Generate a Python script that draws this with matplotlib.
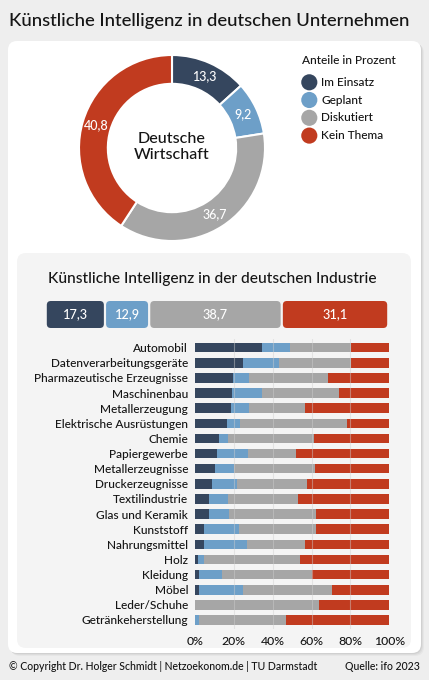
import numpy as np
import matplotlib
matplotlib.use("Agg")
from matplotlib import pyplot as plt
from matplotlib.patches import FancyBboxPatch

plt.rcParams['font.family'] = ['Lato', 'DejaVu Sans']
plt.rcParams['font.weight'] = 'medium'

# data
status = ['Im Einsatz', 'Geplant', 'Diskutiert', 'Kein Thema']
wirtschaft = [13.3, 9.2, 36.7, 40.8]
industrie = [17.3, 12.9, 38.7, 31.1]

branchen = ['Automobil', 'Datenverarbeitungsgeräte', 'Pharmazeutische Erzeugnisse',
            'Maschinenbau', 'Metallerzeugung', 'Elektrische Ausrüstungen', 'Chemie',
            'Papiergewerbe', 'Metallerzeugnisse', 'Druckerzeugnisse', 'Textilindustrie',
            'Glas und Keramik', 'Kunststoff', 'Nahrungsmittel', 'Holz', 'Kleidung',
            'Möbel', 'Leder/Schuhe', 'Getränkeherstellung']
im_einsatz = [34.4, 24.6, 19.8, 19.1, 18.4, 16.3, 12.5, 11.5, 10.3, 8.6, 7.0,
              7.2, 4.8, 4.8, 1.5, 2.1, 2.1, 0.0, 0.0]
geplant = [14.6, 18.4, 8.0, 15.3, 9.4, 6.7, 4.3, 15.6, 9.8, 13.0, 9.8,
           10.3, 18.1, 21.8, 3.3, 12.0, 22.6, 0.0, 2.1]
diskutiert = [31.4, 37.4, 40.9, 39.5, 28.6, 55.2, 44.7, 25.0, 41.8, 36.0, 36.1,
              44.7, 39.3, 29.8, 49.0, 46.0, 45.7, 63.9, 44.8]
kein_thema = [19.6, 19.6, 31.3, 26.1, 43.6, 21.8, 38.5, 47.9, 38.1, 42.4, 47.1,
              37.8, 37.8, 43.6, 46.2, 39.9, 29.6, 36.1, 53.1]
ticks = [0, 20, 40, 60, 80, 100]

colors = ['#35465e', '#6d9fc8', '#a6a6a6', '#c13b1f']
text_col = '#151515'

W, H = 429, 680
fig = plt.figure(figsize=(W / 100, H / 100), dpi=100)
fig.patch.set_facecolor('#eeeeee')


def rect(x0, y0, x1, y1):
    # pixel box (top-left origin) -> figure fraction
    return [x0 / W, 1 - y1 / H, (x1 - x0) / W, (y1 - y0) / H]


# background cards
bg = fig.add_axes([0, 0, 1, 1])
bg.set_xlim(0, W)
bg.set_ylim(H, 0)
bg.axis('off')
for k, a in [(3, 0.03), (2, 0.04), (1, 0.05)]:
    bg.add_patch(FancyBboxPatch((8 + k, 41 + k), 413, 612,
                                boxstyle='round,pad=0,rounding_size=9',
                                fc='black', ec='none', alpha=a))
bg.add_patch(FancyBboxPatch((8, 41), 413, 612, boxstyle='round,pad=0,rounding_size=9',
                            fc='white', ec='none'))
bg.add_patch(FancyBboxPatch((17, 253), 394, 395, boxstyle='round,pad=0,rounding_size=9',
                            fc='#f4f4f4', ec='none'))

bg.text(9, 21, 'Künstliche Intelligenz in deutschen Unternehmen', fontsize=13.3,
        color=text_col, ha='left', va='center')
bg.text(212, 279, 'Künstliche Intelligenz in der deutschen Industrie', fontsize=11.2,
        color=text_col, ha='center', va='center')
bg.text(9, 666, '© Copyright Dr. Holger Schmidt | Netzoekonom.de | TU Darmstadt',
        fontsize=7.6, color=text_col, ha='left', va='center')
bg.text(420, 666, 'Quelle: ifo 2023', fontsize=7.6, color=text_col, ha='right', va='center')

# legend
bg.text(302, 60, 'Anteile in Prozent', fontsize=8.6, color=text_col, ha='left', va='center')
leg_y = [82.3, 100, 117.8, 135.6]
bg.scatter([309.3] * 4, leg_y, s=135, c=colors, linewidths=0)
for lab, yy in zip(status, leg_y):
    bg.text(321, yy, lab, fontsize=8.6, color=text_col, ha='left', va='center')

# donut
r_px = 93
cx, cy = 172, 148
lim = 1.05
ax_d = fig.add_axes(rect(cx - r_px * lim, cy - r_px * lim, cx + r_px * lim, cy + r_px * lim))
ax_d.pie(wirtschaft, colors=colors, startangle=90, counterclock=False, radius=1,
         wedgeprops=dict(width=0.31, edgecolor='white', linewidth=1.5),
         autopct=lambda p: f'{p:.1f}'.replace('.', ','), pctdistance=0.845,
         textprops=dict(color='white', fontsize=9))
ax_d.text(0, 0.01, 'Deutsche\nWirtschaft', ha='center', va='center', fontsize=11.6,
          color=text_col, linespacing=1.2)
ax_d.set_xlim(-lim, lim)
ax_d.set_ylim(-lim, lim)
ax_d.axis('off')

# summary bar
sx0, sx1, sy0, sy1 = 45.7, 388.3, 301, 328
unit = (sx1 - sx0) / 100
ax_s = fig.add_axes(rect(sx0, sy0, sx1, sy1))
ax_s.set_xlim(0, 100)
hs = (sy1 - sy0) / unit
ax_s.set_ylim(0, hs)
ax_s.axis('off')
gap = 2.2 / unit
left = 0
for v, c in zip(industrie, colors):
    ax_s.add_patch(FancyBboxPatch((left + gap / 2, 0), v - gap, hs,
                                  boxstyle=f'round,pad=0,rounding_size={4 / unit}',
                                  fc=c, ec='none'))
    ax_s.text(left + v / 2, hs / 2, f'{v:.1f}'.replace('.', ','), color='white',
              fontsize=9.2, ha='center', va='center')
    left += v

# industry bars
n = len(branchen)
row0, row1 = 347.7, 620
pitch = (row1 - row0) / (n - 1)
ax = fig.add_axes(rect(195, row0 - pitch * 0.6, 389.3, row1 + pitch * 0.6))
ax.set_facecolor('none')
y = np.arange(n)
left = np.zeros(n)
for vals, c in zip([im_einsatz, geplant, diskutiert, kein_thema], colors):
    ax.barh(y, vals, left=left, height=0.63, color=c, linewidth=0, zorder=2)
    left += np.array(vals)
ax.set_xlim(0, 100)
ax.set_ylim(n - 1 + 0.6, -0.6)
ax.set_yticks(y)
ax.set_yticklabels(branchen, fontsize=8.6, color=text_col)
ax.set_xticks(ticks)
ax.set_xticklabels([f'{t}%' for t in ticks], fontsize=8.8, color=text_col)
ax.tick_params(length=0, pad=5)
ax.tick_params(axis='y', pad=5)
for t in ticks[1:-1]:
    ax.axvline(t, color='#cfcfcf', lw=0.8, alpha=0.45, zorder=3)
for s in ax.spines.values():
    s.set_visible(False)

fig.savefig('out.png', dpi=100, facecolor=fig.get_facecolor())
